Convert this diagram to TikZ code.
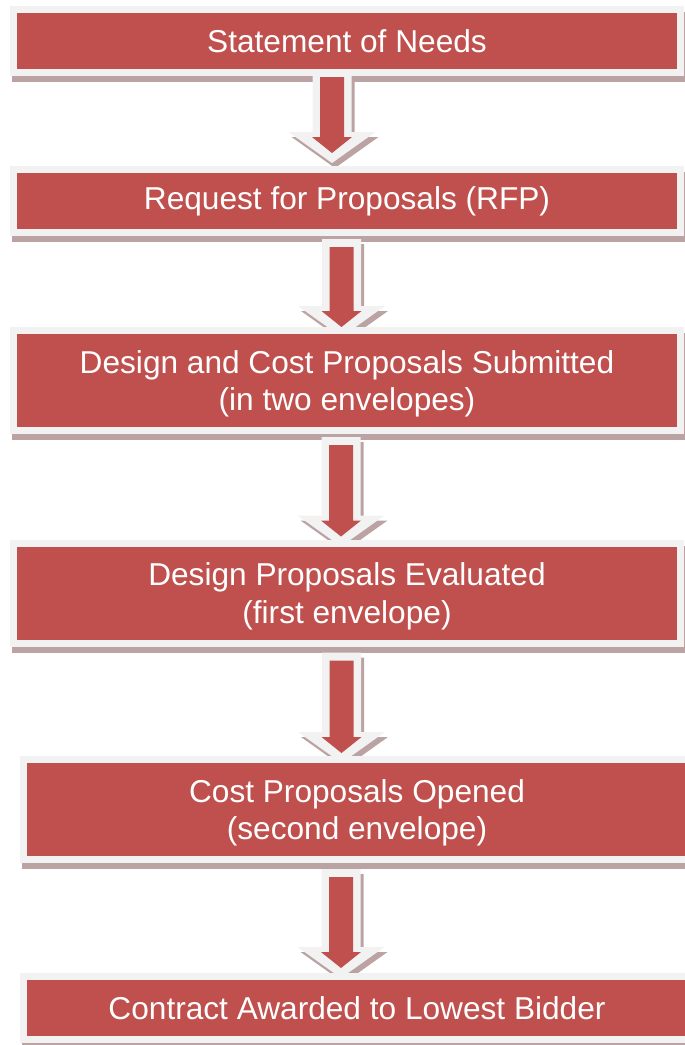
\documentclass[tikz,border=0pt]{standalone}
\usepackage{fontspec}
\setmainfont{Liberation Sans}
\usetikzlibrary{calc,backgrounds}
\definecolor{boxred}{HTML}{C0504D}
\definecolor{boxrim}{HTML}{F2F2F2}
\definecolor{shadegray}{RGB}{188,163,163}
\begin{document}
\begin{tikzpicture}
      [x=0.3mm,y=-0.3mm,
       every node/.style={rectangle, fill=boxred, draw=boxrim, line width=2.1mm, text=white, inner sep=0pt,
         minimum width=200.1mm, align=center, font=\fontsize{27pt}{32pt}\selectfont},
       short/.style={minimum height=18.9mm},
       tall/.style={minimum height=30mm, text depth=0pt},
       rim/.style={fill=boxrim, preaction={fill=shadegray, transform canvas={shift={(3,5)}}}}]
    \useasboundingbox (0,0) rectangle (684,1045);

    \node[short] (n1) at (347,41) {Statement of Needs};
    \node[short] (n2) at (347,201) {Request for Proposals (RFP)};
    \node[tall] (n3) at (347,380.5) {Design and Cost Proposals Submitted\\(in two envelopes)};
    \node[tall] (n4) at (347,593) {Design Proposals Evaluated\\(first envelope)};
    \node[tall] (n5) at (357,809.5) {Cost Proposals Opened\\(second envelope)};
    \node[short] (n6) at (357,1008) {Contract Awarded to Lowest Bidder};

    \begin{pgfonlayer}{background}
      \foreach \n in {n1,n2,n3,n4,n5,n6}
        \fill[shadegray] ($(\n.south west)+(2.5,6)$) rectangle ($(\n.north east)+(2.5,6)$);

      \foreach \from/\to/\ax/\rs/\tg in {n1/n2/332/1/13, n2/n3/341.5/11/0, n3/n4/341/11/3, n4/n5/341.5/14/3, n5/n6/341/14/5}
      {
        \coordinate (top) at (\ax,0 |- \from.south);
        \coordinate (tip) at (\ax,0 |- \to.north);
        \fill[rim] ($(top)+(-19.5,\rs-8)$) -- ++(39,0) -- ($(tip)+(19.5,-\tg-21)$) -- ++(24,0)
          -- ($(tip)+(0,-\tg+10)$) -- ($(tip)+(-43.5,-\tg-21)$) -- ++(24,0) -- cycle;
        \fill[boxred] ($(top)+(-12,\rs)$) -- ++(24,0) -- ($(tip)+(12,-\tg-16)$) -- ++(8,0)
          -- ($(tip)+(0,-\tg)$) -- ($(tip)+(-20,-\tg-16)$) -- ++(8,0) -- cycle;
      }
    \end{pgfonlayer}
\end{tikzpicture}
\end{document}
